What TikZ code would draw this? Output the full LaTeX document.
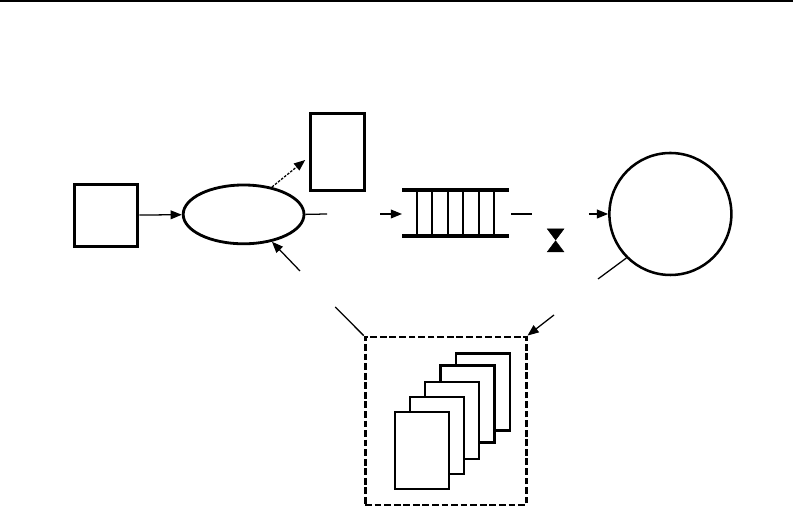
\documentclass[tikz,border=0pt]{standalone}
\usepackage{xcolor}
\usetikzlibrary{arrows.meta,positioning,shapes,calc}
\definecolor{ink}{HTML}{000000}
\tikzset{
  sourcebox/.style={draw=ink,fill=white,line width=2.0pt,inner sep=0pt,
                    minimum width=1.575cm,minimum height=1.55cm},
  tallbox/.style={draw=ink,fill=white,line width=2.0pt,inner sep=0pt,
                  minimum width=1.35cm,minimum height=1.925cm},
  pagebox/.style={draw=ink,fill=white,line width=1.8pt,inner sep=0pt,
                  minimum width=1.35cm,minimum height=1.925cm},
  framebox/.style={draw=ink,line width=2.0pt,inner sep=0pt,
                   dash pattern=on 4.8pt off 2.0pt,
                   minimum width=4.025cm,minimum height=4.2cm},
  rail/.style={draw=ink,line width=2.5pt},
  slot/.style={draw=ink,line width=1.4pt},
  valvetri/.style={draw=ink,fill=ink,line width=0.3pt,isosceles triangle,
                   isosceles triangle apex angle=72,inner sep=0pt,
                   isosceles triangle stretches,
                   minimum height=0.28cm,minimum width=0.42cm,anchor=apex},
  flowarr/.style={-{Triangle[length=2.8mm,width=2.2mm]},line width=0.9pt,draw=ink},
  softarr/.style={-{Triangle[length=2.8mm,width=2.2mm]},line width=0.9pt,draw=ink,
                  dash pattern=on 1.8pt off 1pt},
  flowline/.style={line width=0.9pt,draw=ink}
}
\begin{document}
\begin{tikzpicture}[x=1cm,y=1cm]
  \useasboundingbox (0,0) rectangle (19.825,12.8);
  % top rule
  \coordinate (ruleL) at (0,12.775);
  \coordinate (ruleR) at (19.825,12.775);
  \draw[flowline,line width=1.4pt] (ruleL) -- (ruleR);
  % upper row
  \node[sourcebox] (source) at (2.66,7.42) {};
  \node[draw=ink,fill=white,line width=2.0pt,ellipse,inner sep=0pt,
        minimum width=3.02cm,minimum height=1.47cm] (router) at (6.09,7.44) {};
  \node[tallbox] (store) at (8.43,9.0) {};
  \node[draw=ink,fill=white,line width=1.8pt,circle,inner sep=0pt,
        minimum size=3.05cm] (server) at (16.76,7.45) {};
  % queue
  \coordinate (qTL) at (10.05,8.05);
  \coordinate (qTR) at (12.72,8.05);
  \coordinate (qBL) at (10.05,6.9);
  \coordinate (qBR) at (12.72,6.9);
  \coordinate (qIn) at (10.05,7.45);
  \draw[rail] (qTL) -- (qTR);
  \draw[rail] (qBL) -- (qBR);
  \foreach \x in {10.42,10.81,11.19,11.58,11.98,12.36}
    \draw[slot] (\x,8.05) -- (\x,6.9);
  % valve
  \node[valvetri,shape border rotate=-90] (valveT) at (13.89,6.79) {};
  \node[valvetri,shape border rotate=90] (valveB) at (13.89,6.79) {};
  % lower group
  \node[framebox] (frame) at (11.14,2.275) {};
  \node[pagebox,line width=2.1pt] (page5) at (12.075,3.01) {};
  \node[pagebox,line width=2.0pt] (page4) at (11.69,2.69) {};
  \node[pagebox,line width=1.6pt] (page3) at (11.30,2.29) {};
  \node[pagebox,line width=1.6pt] (page2) at (10.925,1.91) {};
  \node[pagebox,line width=1.9pt] (page1) at (10.55,1.54) {};
  % free ends
  \coordinate (outA) at (8.18,7.45);
  \coordinate (outB) at (9.5,7.45);
  \coordinate (outC) at (12.78,7.45);
  \coordinate (outD) at (14.72,7.45);
  \coordinate (outE) at (13.3,7.45);
  \coordinate (backA) at (7.5,6.025);
  \coordinate (dropA) at (8.38,5.125);
  \coordinate (tailA) at (14.95,5.825);
  \coordinate (downA) at (13.85,4.925);
  \coordinate (upB) at (7.63,8.8);
  % connectors
  \draw[flowarr] (source) -- (router);
  \draw[softarr] (router.44) -- (upB);
  \draw[flowline] (router.east) -- (outA);
  \draw[flowarr] (outB) -- (qIn);
  \draw[flowline] (outC) -- (outE);
  \draw[flowarr] (outD) -- (server.west);
  \draw[flowarr] (backA) -- (router.-44);
  \draw[flowline] (dropA) -- (frame.north west);
  \draw[flowline] (tailA) -- (server.225);
  \draw[flowarr] (downA) -- (frame.north east);
\end{tikzpicture}
\end{document}
